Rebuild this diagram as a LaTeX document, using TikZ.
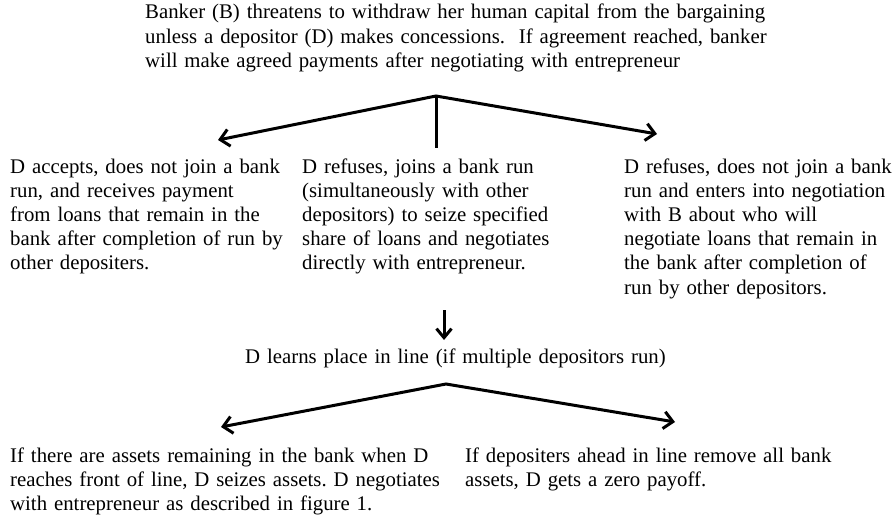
\documentclass[tikz,border=0pt]{standalone}
\usepackage{fontspec}
\setmainfont{Liberation Serif}
\usetikzlibrary{arrows.meta}
\frenchspacing
\tikzset{
  choice/.style={anchor=base west, inner sep=0pt, align=left,
    font=\fontsize{20.8}{24.2}\selectfont},
  branch/.style={line width=3pt, line join=miter,
    {Straight Barb[length=9pt,width=17pt]}-{Straight Barb[length=9pt,width=17pt]}},
  stem/.style={line width=3pt, -{Straight Barb[length=9pt,width=15pt]}}
}
\begin{document}
\begin{tikzpicture}[x=1pt, y=-1pt]
\useasboundingbox (0,0) rectangle (895,527);

\node[choice, text width=700pt] (threat) at (145,19) {Banker (B) threatens to withdraw her human capital from the bargaining\\
unless a depositor (D) makes concessions.\ \ If agreement reached, banker\\
will make agreed payments after negotiating with entrepreneur};

\node[choice, text width=290pt] (accept) at (10,173) {D accepts, does not join a bank\\
run, and receives payment\\
from loans that remain in the\\
bank after completion of run by\\
other depositers.};
\node[choice, text width=310pt] (run) at (302,173) {D refuses, joins a bank run\\
(simultaneously with other\\
depositors) to seize specified\\
share of loans and negotiates\\
directly with entrepreneur.};
\node[choice, text width=270pt] (bargain) at (624,173) {D refuses, does not join a bank\\
run and enters into negotiation\\
with B about who will\\
negotiate loans that remain in\\
the bank after completion of\\
run by other depositors.};

\node[choice, text width=600pt] (place) at (245,363) {D learns place in line (if multiple depositors run)};

\node[choice, text width=470pt] (seize) at (10,462) {If there are assets remaining in the bank when D\\
reaches front of line, D seizes assets. D negotiates\\
with entrepreneur as described in figure 1.};
\node[choice, text width=430pt] (zero) at (465,462) {If depositers ahead in line remove all bank\\
assets, D gets a zero payoff.};

\coordinate (fork) at (436,96);
\coordinate (accept tip) at (218,140);
\coordinate (bargain tip) at (657,134);
\coordinate (run top) at (436,148);
\draw[branch] (accept tip) -- (fork) -- (bargain tip);
\draw[line width=3pt] (fork) -- (run top);

\coordinate (run end) at (444,310);
\coordinate (place tip) at (444,340);
\draw[stem] (run end) -- (place tip);

\coordinate (line fork) at (446,384);
\coordinate (seize tip) at (221,427);
\coordinate (zero tip) at (675,422);
\draw[branch] (seize tip) -- (line fork) -- (zero tip);
\end{tikzpicture}
\end{document}
